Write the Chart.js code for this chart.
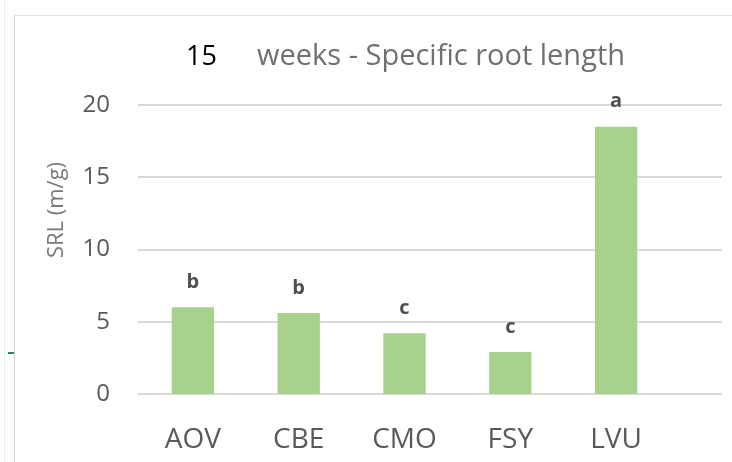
<!DOCTYPE html>
<html>
<head>
<meta charset="utf-8">
<script src="https://cdn.jsdelivr.net/npm/chart.js@4/dist/chart.umd.min.js"></script>
<style>
	body { margin:0; background:#fff; }
	#wrap { position:relative; width:732px; height:462px; }
	/* 바깥 테두리 */
	.frameL { position:absolute; left:14px; top:15px; width:1px; height:447px; background:#d4d4d4; }
	.frameL2 { position:absolute; left:4px; top:0px; width:1px; height:462px; background:#ececec; }
	.frameT { position:absolute; left:14px; top:15px; width:718px; height:1px; background:#e2e2e2; }
	.tick { position:absolute; left:8px; top:352px; width:6px; height:2px; background:#2f7d6d; }
</style>
</head>
<body>
<div id="wrap">
	<div class="frameL2"></div>
	<div class="frameL"></div>
	<div class="frameT"></div>
	<div class="tick"></div>
	<canvas id="chartSrl" width="732" height="462"></canvas>
</div>
<script>
	// 데이터
	let chartLabels = ["AOV", "CBE", "CMO", "FSY", "LVU"];
	let chartData   = [6.0, 5.6, 4.2, 2.9, 18.5];
	let sigLetters  = ["b", "b", "c", "c", "a"];
	let yTicks      = [0, 5, 10, 15, 20];

	let titleNum  = "15";
	let titleText = "weeks - Specific root length";
	let yTitle    = "SRL (m/g)";

	const fontFam = "'Open Sans', 'DejaVu Sans', sans-serif";
	const grayTxt = "#595959";

	/**
	 * 제목, 축제목, 그리드, 유의문자
	 */
	const decoPlugin = {
		id : "deco",
		beforeDatasetsDraw(chart){
			const ctx = chart.ctx;
			const y = chart.scales.y;
			ctx.save();
			ctx.strokeStyle = "#d9d9d9";
			ctx.lineWidth = 2;
			y.ticks.forEach(t => {
				let py = Math.round(y.getPixelForValue(t.value));
				ctx.beginPath();
				ctx.moveTo(138, py);
				ctx.lineTo(722, py);
				ctx.stroke();
			});
			ctx.restore();
		},
		afterDatasetsDraw(chart){
			const ctx = chart.ctx;
			ctx.save();
			//제목
			ctx.textBaseline = "alphabetic";
			ctx.textAlign = "left";
			ctx.font = "27px " + fontFam;
			ctx.fillStyle = "#000";
			ctx.fillText(titleNum, 186, 65);
			ctx.font = "29px " + fontFam;
			ctx.fillStyle = "#707070";
			ctx.fillText(titleText, 257, 65);

			//y축 제목
			ctx.save();
			ctx.translate(57, 210);
			ctx.rotate(-Math.PI/2);
			ctx.textAlign = "center";
			ctx.textBaseline = "middle";
			ctx.font = "22px " + fontFam;
			ctx.fillStyle = "#7a7a7a";
			ctx.fillText(yTitle, 0, 0);
			ctx.restore();

			//유의문자
			const meta = chart.getDatasetMeta(0);
			ctx.font = "bold 20px " + fontFam;
			ctx.fillStyle = "#505050";
			ctx.textAlign = "center";
			ctx.textBaseline = "middle";
			meta.data.forEach((bar, i) => {
				ctx.fillText(sigLetters[i], bar.x, bar.y - 25);
			});
			ctx.restore();
		}
	};

	function setChart(){
		var area = document.getElementById("chartSrl").getContext("2d");
		new Chart(area, {
			type : "bar",
			data : {
				labels : chartLabels,
				datasets : [
					{
						label : "SRL",
						data : chartData,
						backgroundColor : "#a9d18e",
						categoryPercentage : 1,
						barPercentage : 0.4
					}
				]
			},
			options : {
				responsive : false,
				animation : false,
				layout : { padding : { top:105, right:63, left:0, bottom:0 } },
				plugins : {
					legend : { display:false },
					title : { display:false },
					tooltip : { enabled:false }
				},
				scales : {
					x : {
						grid : { display:false },
						border : { display:false },
						ticks : { color:grayTxt, font:{ family:fontFam, size:28 }, padding:21 },
						afterFit : s => { s.height = 68; }
					},
					y : {
						min : 0,
						max : 20,
						afterBuildTicks : s => { s.ticks = yTicks.map(v => ({ value:v })); },
						grid : { display:false },
						border : { display:false },
						ticks : { color:grayTxt, font:{ family:fontFam, size:24 }, padding:22 },
						afterFit : s => { s.width = 140; }
					}
				}
			},
			plugins : [decoPlugin]
		});
	};

	setChart();
</script>
</body>
</html>
